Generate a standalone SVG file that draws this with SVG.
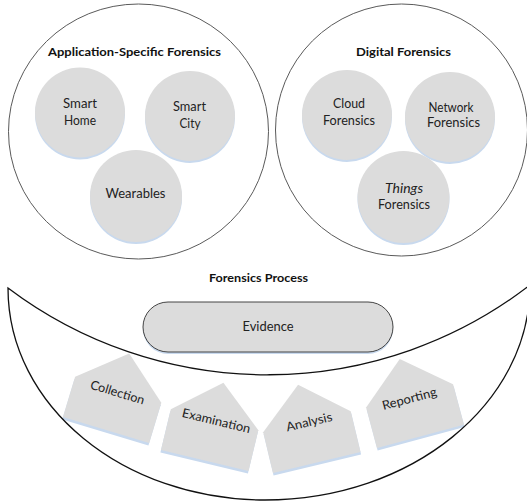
<svg xmlns="http://www.w3.org/2000/svg" width="527" height="501" viewBox="0 0 527 501">
<style>
.big{fill:#ffffff;stroke:#5a5a5a;stroke-width:1}
.node{fill:#dcdcdc}
.shadow{fill:#c8d9ee}
.t{font-family:Lato,"Open Sans","Liberation Sans",sans-serif;font-size:13px;fill:#222;text-anchor:middle}
.title{font-family:Lato,"Open Sans","Liberation Sans",sans-serif;font-size:12px;font-weight:bold;fill:#111;text-anchor:middle}
.pt{font-family:Lato,"Open Sans","Liberation Sans",sans-serif;font-size:12.5px;fill:#222;text-anchor:middle}
.bowl{fill:none;stroke:#111;stroke-width:1.3}
.ev{fill:#dcdcdc;stroke:#444;stroke-width:1}
</style>
<defs>
<polygon id="penta" points="0,0 90,0 90,-42 45,-80 0,-42"/>
</defs>

<g id="application-specific-forensics">
<ellipse class="big" cx="138.5" cy="131.5" rx="130" ry="127.5"/>
<text class="title" x="134.5" y="56" textLength="173" lengthAdjust="spacingAndGlyphs">Application-Specific Forensics</text>
</g>
<g id="smart-home">
<circle class="shadow" cx="80" cy="114.5" r="45"/>
<circle class="node" cx="80" cy="112.5" r="45"/>
<text class="t" x="80" y="108" textLength="34" lengthAdjust="spacingAndGlyphs">Smart</text>
<text class="t" x="80" y="125" textLength="32" lengthAdjust="spacingAndGlyphs">Home</text>
</g>
<g id="smart-city">
<circle class="shadow" cx="190" cy="118" r="45"/>
<circle class="node" cx="190" cy="116" r="45"/>
<text class="t" x="189.5" y="111" textLength="33" lengthAdjust="spacingAndGlyphs">Smart</text>
<text class="t" x="190" y="128" textLength="21" lengthAdjust="spacingAndGlyphs">City</text>
</g>
<g id="wearables">
<circle class="shadow" cx="136" cy="198" r="46"/>
<circle class="node" cx="136" cy="196" r="46"/>
<text class="t" x="135.5" y="198" textLength="60" lengthAdjust="spacingAndGlyphs">Wearables</text>
</g>

<g id="digital-forensics">
<circle class="big" cx="401.5" cy="130" r="126"/>
<text class="title" x="403.5" y="56" textLength="95" lengthAdjust="spacingAndGlyphs">Digital Forensics</text>
</g>
<g id="cloud-forensics">
<circle class="shadow" cx="347" cy="117" r="45"/>
<circle class="node" cx="347" cy="115" r="45"/>
<text class="t" x="349" y="108" textLength="32" lengthAdjust="spacingAndGlyphs">Cloud</text>
<text class="t" x="349" y="125" textLength="52" lengthAdjust="spacingAndGlyphs">Forensics</text>
</g>
<g id="network-forensics">
<circle class="shadow" cx="450" cy="119" r="45"/>
<circle class="node" cx="450" cy="117" r="45"/>
<text class="t" x="451" y="112" textLength="45" lengthAdjust="spacingAndGlyphs">Network</text>
<text class="t" x="453.5" y="127" textLength="53" lengthAdjust="spacingAndGlyphs">Forensics</text>
</g>
<g id="things-forensics">
<circle class="shadow" cx="403.5" cy="199" r="46"/>
<circle class="node" cx="403.5" cy="197" r="46"/>
<text class="t" x="404" y="193" font-style="italic" textLength="38" lengthAdjust="spacingAndGlyphs">Things</text>
<text class="t" x="404" y="209" textLength="52" lengthAdjust="spacingAndGlyphs">Forensics</text>
</g>

<g id="forensics-process">
<text class="title" x="258.5" y="282" textLength="99" lengthAdjust="spacingAndGlyphs">Forensics Process</text>
</g>
<g id="evidence">
<rect class="shadow" x="143" y="304" width="250" height="50" rx="25"/>
<rect class="ev" x="143" y="302" width="250" height="50" rx="25"/>
<text class="t" x="268" y="331" textLength="51" lengthAdjust="spacingAndGlyphs">Evidence</text>
</g>

<g id="collection" transform="translate(63,417) rotate(16.8)">
<use href="#penta" class="shadow" y="2.5"/>
<use href="#penta" class="node"/>
<text class="pt" x="45" y="-35" textLength="56" lengthAdjust="spacingAndGlyphs">Collection</text>
</g>
<g id="examination" transform="translate(161,450) rotate(13.5)">
<use href="#penta" class="shadow" y="2.5"/>
<use href="#penta" class="node"/>
<text class="pt" x="47" y="-37" textLength="70" lengthAdjust="spacingAndGlyphs">Examination</text>
</g>
<g id="analysis" transform="translate(273,473) rotate(-13.5)">
<use href="#penta" class="shadow" y="2.5"/>
<use href="#penta" class="node"/>
<text class="pt" x="47" y="-37" textLength="47" lengthAdjust="spacingAndGlyphs">Analysis</text>
</g>
<g id="reporting" transform="translate(377,448) rotate(-15)">
<use href="#penta" class="shadow" y="2.5"/>
<use href="#penta" class="node"/>
<text class="pt" x="44" y="-35" textLength="56" lengthAdjust="spacingAndGlyphs">Reporting</text>
</g>

<g id="connectors">
<path id="process-bowl" class="bowl" d="M 8 288 A 430 430 0 0 0 530 285 C 530 404 411 500 265 500 C 123 500 8 406 8 288 Z"/>
</g>
</svg>
